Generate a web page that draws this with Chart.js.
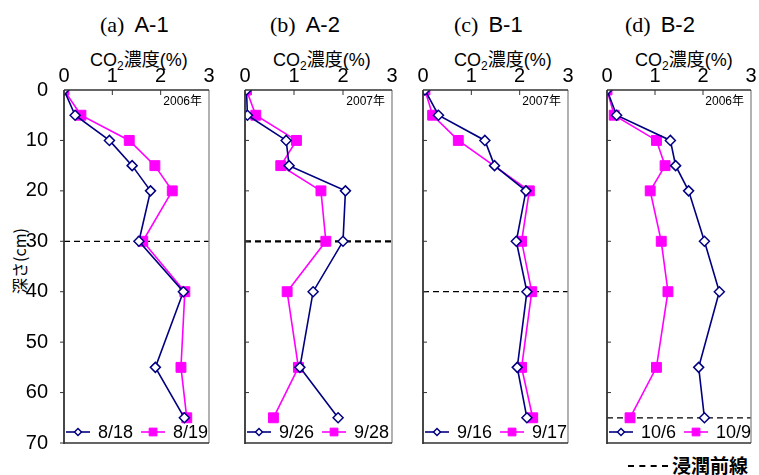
<!DOCTYPE html>
<html>
<head>
<meta charset="utf-8">
<script src="https://cdn.jsdelivr.net/npm/chart.js@4.4.0/dist/chart.umd.min.js"></script>
<style>
  body { margin: 0; width: 759px; height: 475px; background: #fff; position: relative; overflow: hidden;
         font-family: "Liberation Sans", Arial, "Noto Sans CJK JP", sans-serif; color: #000; }
  canvas { position: absolute; top: 0; }
  .ttl { position: absolute; top: 12px; font-size: 22px; white-space: nowrap; line-height: 26px; }
  .ttl .p { font-family: "Liberation Serif", serif; font-size: 22px; margin-right: 10px; }
  .xt { position: absolute; top: 49px; font-size: 18px; white-space: nowrap; line-height: 22px;
        font-family: "Liberation Sans", "Noto Sans CJK JP", sans-serif; }
  .xt sub { font-size: 12px; vertical-align: -4px; line-height: 0; }
  .yt { position: absolute; left: -31px; top: 251px; width: 100px; height: 20px; text-align: center; font-size: 16px;
        transform: rotate(-90deg); white-space: nowrap; font-family: "Noto Sans CJK JP", sans-serif; line-height: 20px; }
  .front { position: absolute; left: 628px; top: 453px; font-size: 19px; font-weight: bold; white-space: nowrap;
           font-family: "Noto Sans CJK JP", sans-serif; line-height: 24px; }
  .front .dash { display: inline-block; width: 40px; height: 0; border-top: 2.5px dashed #000; vertical-align: 6px; margin-right: 4px; }
</style>
</head>
<body>
<div class="ttl" style="left:100px"><span class="p">(a)</span>A-1</div>
<div class="ttl" style="left:270px"><span class="p">(b)</span>A-2</div>
<div class="ttl" style="left:454px"><span class="p">(c)</span>B-1</div>
<div class="ttl" style="left:625px"><span class="p">(d)</span>B-2</div>

<div class="xt" style="left:90px">CO<sub>2</sub>濃度(%)</div>
<div class="xt" style="left:273px">CO<sub>2</sub>濃度(%)</div>
<div class="xt" style="left:454px">CO<sub>2</sub>濃度(%)</div>
<div class="xt" style="left:635px">CO<sub>2</sub>濃度(%)</div>

<div class="yt">深さ(cm)</div>
<div class="front"><span class="dash"></span>浸潤前線</div>

<canvas id="pa" width="230" height="475" style="left:0px"></canvas>
<canvas id="pb" width="180" height="475" style="left:230px"></canvas>
<canvas id="pc" width="175" height="475" style="left:410px"></canvas>
<canvas id="pd" width="169" height="475" style="left:590px"></canvas>

<script>
// depth of each sampling point (cm)
const depths = [0, 5, 10, 15, 20, 30, 40, 55, 65];

// CO2 concentration (%) per date
const a_0818 = [0, 0.23, 0.94, 1.41, 1.79, 1.55, 2.47, 1.89, 2.49];
const a_0819 = [0, 0.35, 1.35, 1.88, 2.24, 1.63, 2.50, 2.42, 2.54];
const b_0926 = [0.03, 0.05, 0.84, 0.90, 2.05, 2.00, 1.39, 1.12, 1.90];
const b_0928 = [0.03, 0.22, 1.05, 0.73, 1.55, 1.65, 0.86, 1.09, 0.58];
const c_0916 = [0.04, 0.32, 1.28, 1.48, 2.13, 1.93, 2.15, 1.95, 2.15];
const c_0917 = [0.04, 0.20, 0.73, null, 2.20, 2.04, 2.25, 2.04, 2.27];
const d_1006 = [0, 0.20, 1.32, 1.43, 1.70, 2.03, 2.34, 1.91, 2.03];
const d_1009 = [0, 0.15, 1.03, 1.21, 0.90, 1.13, 1.27, 1.03, 0.48];

// wetting front depth (cm) per panel
const frontDepths = [30, 30, 40, 65];
const years = ['2006年', '2007年', '2007年', '2006年'];
const xTicks = [0, 1, 2, 3];
const yTicks = [0, 10, 20, 30, 40, 50, 60, 70];

const NAVY = '#000080';
const MAG = '#ff00ff';
const FONT = '"Liberation Sans", Arial, sans-serif';

function pts(vals) {
  return depths.map((d, i) => ({ x: vals[i], y: d })).filter(p => p.x !== null);
}

// frame, inward ticks, year label and the in-plot legend
const framePlugin = {
  id: 'frame',
  afterDatasetsDraw(chart, args, opts) {
    const { ctx, chartArea: a, scales } = chart;
    ctx.save();
    ctx.lineWidth = 1.3;
    ctx.strokeStyle = '#888';
    ctx.beginPath(); ctx.moveTo(a.right, a.top); ctx.lineTo(a.right, a.bottom); ctx.stroke();
    ctx.strokeStyle = '#333';
    ctx.beginPath();
    ctx.moveTo(a.left, a.top); ctx.lineTo(a.right, a.top);
    ctx.moveTo(a.left, a.bottom); ctx.lineTo(a.right, a.bottom);
    ctx.stroke();
    ctx.lineWidth = 1.8;
    ctx.beginPath(); ctx.moveTo(a.left, a.top); ctx.lineTo(a.left, a.bottom + 1); ctx.stroke();

    ctx.lineWidth = 1;
    ctx.beginPath();
    [1, 2].forEach(v => {
      const x = scales.x.getPixelForValue(v);
      ctx.moveTo(x, a.top); ctx.lineTo(x, a.top + 5);
    });
    [10, 20, 30, 40, 50, 60, 70].forEach(v => {
      const y = scales.y.getPixelForValue(v);
      if (opts.outTicks) { ctx.moveTo(a.left - 4, y); ctx.lineTo(a.left, y); }
      else if (v < 70) { ctx.moveTo(a.left, y); ctx.lineTo(a.left + 4, y); }
    });
    ctx.stroke();

    ctx.fillStyle = '#000';
    ctx.font = '12px ' + FONT + ', "Noto Sans CJK JP"';
    ctx.textAlign = 'right';
    ctx.textBaseline = 'middle';
    ctx.fillText(opts.year, a.right - 7, a.top + 12);

    // legend
    const ly = a.bottom - 11;
    let x = a.left + 2;
    ctx.font = '18px ' + FONT;
    ctx.textAlign = 'left';
    chart.data.datasets.slice(0, 2).forEach(ds => {
      ctx.strokeStyle = ds.borderColor;
      ctx.lineWidth = 1.6;
      ctx.beginPath(); ctx.moveTo(x, ly); ctx.lineTo(x + 24, ly); ctx.stroke();
      ctx.fillStyle = ds.pointBackgroundColor;
      ctx.strokeStyle = ds.pointBorderColor;
      ctx.lineWidth = ds.pointBorderWidth;
      Chart.helpers.drawPoint(ctx, {
        pointStyle: ds.pointStyle, radius: ds.pointStyle === 'rect' ? 5.5 : 3.5,
        borderWidth: ds.pointBorderWidth, rotation: 0
      }, x + 12, ly);
      ctx.fillStyle = '#000';
      ctx.fillText(ds.label, x + 32, ly + 1);
      x += 32 + ctx.measureText(ds.label).width + 8;
    });
    ctx.restore();
  }
};

function makePanel(id, idx, s1, s2, names, pad, showY) {
  new Chart(document.getElementById(id), {
    type: 'line',
    data: {
      datasets: [
        { label: names[0], data: pts(s1), borderColor: NAVY, borderWidth: 1.6,
          pointStyle: 'rectRot', pointRadius: 5, pointBackgroundColor: '#fff',
          pointBorderColor: NAVY, pointBorderWidth: 1.5, tension: 0 },
        { label: names[1], data: pts(s2), borderColor: MAG, borderWidth: 1.6,
          pointStyle: 'rect', pointRadius: 7, pointBackgroundColor: MAG,
          pointBorderColor: MAG, pointBorderWidth: 1, tension: 0 },
        { label: 'front', data: [{ x: 0, y: frontDepths[idx] }, { x: 3, y: frontDepths[idx] }],
          borderColor: '#000', borderWidth: idx === 1 ? 2.2 : 1.3, borderDash: [6, 4], pointRadius: 0 }
      ]
    },
    options: {
      responsive: false,
      animation: false,
      layout: { padding: { top: 60, bottom: 32, left: pad[0], right: pad[1] } },
      plugins: {
        legend: { display: false },
        tooltip: { enabled: false },
        frame: { year: years[idx], outTicks: showY }
      },
      scales: {
        x: {
          type: 'linear', position: 'top', min: 0, max: 3,
          afterBuildTicks: s => { s.ticks = xTicks.map(v => ({ value: v })); },
          ticks: { color: '#000', font: { size: 20, family: FONT }, padding: -6 },
          grid: { display: false }, border: { display: false },
          afterFit: s => { s.height = 30; }
        },
        y: {
          type: 'linear', reverse: true, min: 0, max: 70, display: showY,
          afterBuildTicks: s => { s.ticks = yTicks.map(v => ({ value: v })); },
          ticks: { color: '#000', font: { size: 20, family: FONT }, padding: 8 },
          grid: { display: false }, border: { display: false },
          afterFit: s => { s.width = showY ? 64 : 0; }
        }
      }
    },
    plugins: [framePlugin]
  });
}

makePanel('pa', 0, a_0818, a_0819, ['8/18', '8/19'], [0, 21], true);
makePanel('pb', 1, b_0926, b_0928, ['9/26', '9/28'], [15, 18], false);
makePanel('pc', 2, c_0916, c_0917, ['9/16', '9/17'], [13, 17], false);
makePanel('pd', 3, d_1006, d_1009, ['10/6', '10/9'], [17, 7], false);
</script>
</body>
</html>
